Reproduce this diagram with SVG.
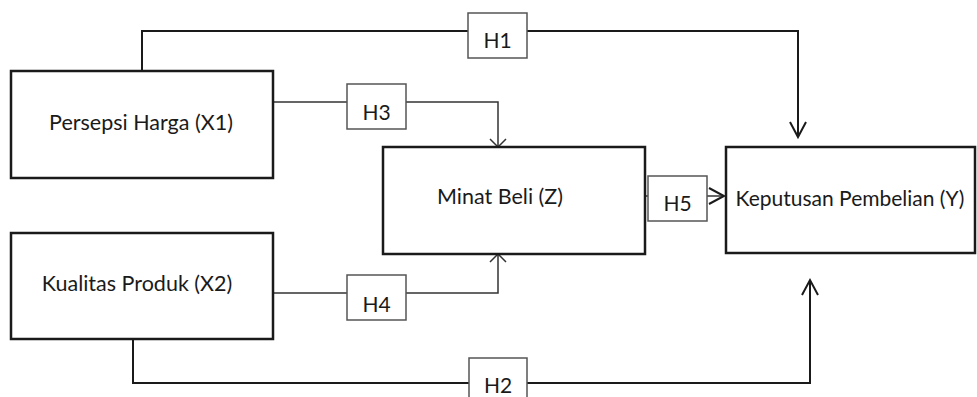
<svg xmlns="http://www.w3.org/2000/svg" width="977" height="397" viewBox="0 0 977 397">
<style>
.node{fill:#fff;stroke:#1a1a1a;stroke-width:2.5}
.hbox{fill:#fff;stroke:#555;stroke-width:1.5}
.t{font-family:Lato,"Open Sans","Liberation Sans",sans-serif;font-size:21.5px;fill:#1a1a1a;text-anchor:middle}
.h{font-family:Lato,"Open Sans","Liberation Sans",sans-serif;font-size:21px;fill:#1a1a1a;text-anchor:middle}
.c{fill:none;stroke:#1a1a1a;stroke-width:2}
.c2{fill:none;stroke:#333;stroke-width:1.5}
</style>
<defs>
<marker id="big" markerUnits="userSpaceOnUse" markerWidth="20" markerHeight="20" refX="15" refY="8" orient="auto" overflow="visible">
<path d="M0,0 L15,8 L0,16" fill="none" stroke="#1a1a1a" stroke-width="2"/>
</marker>
<marker id="small" markerUnits="userSpaceOnUse" markerWidth="20" markerHeight="20" refX="8" refY="8" orient="auto" overflow="visible">
<path d="M0,0 L8,8 L0,16" fill="none" stroke="#333" stroke-width="1.5"/>
</marker>
</defs>
<g id="connectors">
<path id="c-h1" class="c" d="M142,71 V31 H798 V137" marker-end="url(#big)"/>
<path id="c-h2" class="c" d="M133,339 V383 H810 V280" marker-end="url(#big)"/>
<path id="c-h3" class="c2" d="M273,102 H498 V147" marker-end="url(#small)"/>
<path id="c-h4" class="c2" d="M273,293 H498 V254" marker-end="url(#small)"/>
<path id="c-h5" class="c2" d="M645,196 H724" marker-end="url(#big)"/>
</g>
<g id="x1">
<rect class="node" x="11" y="71" width="262" height="107"/>
<text class="t" x="141" y="130">Persepsi Harga (X1)</text>
</g>
<g id="x2">
<rect class="node" x="11" y="233" width="262" height="106"/>
<text class="t" x="137" y="291">Kualitas Produk (X2)</text>
</g>
<g id="z">
<rect class="node" x="383" y="147" width="262" height="107"/>
<text class="t" x="500" y="204">Minat Beli (Z)</text>
</g>
<g id="y">
<rect class="node" x="726" y="147" width="249" height="106"/>
<text class="t" x="850" y="206" style="font-size:21px">Keputusan Pembelian (Y)</text>
</g>
<g id="h1">
<rect class="hbox" x="468" y="13" width="59" height="45"/>
<text class="h" x="497.5" y="48">H1</text>
</g>
<g id="h3">
<rect class="hbox" x="347" y="84" width="59" height="45"/>
<text class="h" x="376.5" y="120">H3</text>
</g>
<g id="h4">
<rect class="hbox" x="347" y="275" width="59" height="45"/>
<text class="h" x="376.5" y="312">H4</text>
</g>
<g id="h5">
<rect class="hbox" x="648" y="176" width="59" height="45"/>
<text class="h" x="677.5" y="211">H5</text>
</g>
<g id="h2">
<rect class="hbox" x="469" y="358" width="58" height="45"/>
<text class="h" x="498" y="393">H2</text>
</g>
</svg>
